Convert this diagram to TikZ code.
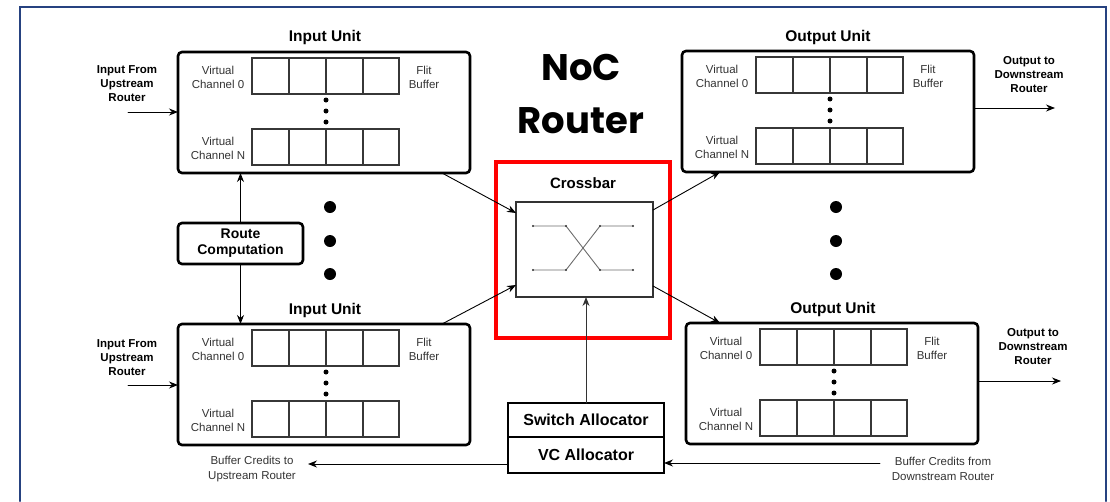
\documentclass[tikz,border=0pt]{standalone}
\usepackage{fontspec}
\setmainfont{Liberation Sans}
\newfontfamily\nocfont{Poppins}
\usetikzlibrary{arrows.meta}
\definecolor{framebl}{RGB}{38,66,128}
\definecolor{bufgray}{RGB}{55,55,55}

\begin{document}
\begin{tikzpicture}[x=1pt,y=-1pt,>={Stealth[length=9pt,width=7pt]},line cap=round,
  unitbox/.style={draw,line width=2.6pt,rounded corners=4pt,minimum width=292pt,minimum height=121pt,inner sep=0pt,outer sep=0pt,anchor=north west},
  ctrlbox/.style={draw,line width=2.6pt,inner sep=0pt,outer sep=0pt,align=center,font=\bfseries\fontsize{14}{16}\selectfont},
  buffer/.style={draw=bufgray,line width=1.1pt},
  unittitle/.style={font=\bfseries\fontsize{15.5}{18}\selectfont},
  vclabel/.style={font=\fontsize{11.5}{14}\selectfont,align=center,text=black!80},
  portlabel/.style={font=\bfseries\fontsize{11.5}{14}\selectfont,align=center},
  creditlabel/.style={font=\fontsize{11.5}{15}\selectfont,align=center,text=black!80},
  conn/.style={line width=0.9pt}]
\useasboundingbox (0,0) rectangle (1110,501);
\draw[framebl,line width=2pt] (20,501) -- (20,7) -- (1106,7) -- (1106,501);

% units
\node[unitbox] (inA) at (178,52) {};
\node[unitbox] (inB) at (178,324) {};
\node[unitbox] (outA) at (682,51) {};
\node[unitbox] (outB) at (686,323) {};
\node[unittitle] (inA-title) at (325,37) {Input Unit};
\node[unittitle] (inB-title) at (325,310) {Input Unit};
\node[unittitle] (outA-title) at (828,37) {Output Unit};
\node[unittitle] (outB-title) at (833,309) {Output Unit};

% flit buffers inside each unit
\foreach \u/\ux/\uy in {inA/178/52,inB/178/324,outA/682/51,outB/686/323}{
  \foreach \rowy in {6,77}{
    \draw[buffer] (\ux+74,\uy+\rowy) rectangle (\ux+221,\uy+\rowy+36);
    \foreach \cx in {37,74,111}
      \draw[buffer] (\ux+74+\cx,\uy+\rowy) -- (\ux+74+\cx,\uy+\rowy+36);
  }
  \foreach \d in {48,59,70}
    \fill (\ux+148,\uy+\d) circle (2.5);
  \node[vclabel] (\u-vc0) at (\ux+40,\uy+25) {Virtual\\Channel 0};
  \node[vclabel] (\u-vcn) at (\ux+40,\uy+96) {Virtual\\Channel N};
  \node[vclabel] (\u-flit) at (\ux+246,\uy+25) {Flit\\Buffer};
}

% title
\node[font=\nocfont\bfseries\fontsize{37}{53}\selectfont,align=center] (noc) at (581,94) {NoC\\Router};

% crossbar
\draw[red,line width=3.6pt] (496,162) rectangle (670,338);
\node[unittitle,font=\bfseries\fontsize{15}{18}\selectfont] (xb-title) at (583,183) {Crossbar};
\node[draw=black!80,line width=1.8pt,minimum width=137pt,minimum height=95pt,inner sep=0pt,outer sep=0pt] (xb) at (584.5,249.5) {};
\draw[gray!85!black,line width=0.9pt] (533,226) -- (566,226) -- (600,270) -- (633,270);
\draw[gray!85!black,line width=0.9pt] (533,270) -- (566,270) -- (600,226) -- (633,226);
\foreach \px in {533,566,600,633}{
  \fill[black!80] (\px,226) circle (1.1);
  \fill[black!80] (\px,270) circle (1.1);
}

% route computation and allocators
\node[ctrlbox,rounded corners=4pt,minimum width=125pt,minimum height=41pt] (rc) at (240.5,243.5) {Route\\Computation};
\node[ctrlbox,font=\bfseries\fontsize{16}{18}\selectfont,minimum width=156pt,minimum height=34pt] (sa) at (586,420) {Switch Allocator};
\node[ctrlbox,font=\bfseries\fontsize{16}{18}\selectfont,minimum width=156pt,minimum height=36pt,anchor=north] (vca) at (sa.south) {VC Allocator};

% big dots between units
\foreach \dy in {207,241,274}{
  \fill (330,\dy) circle (6);
  \fill (836,\dy) circle (6);
}

% ports
\node[portlabel] (inA-lbl) at (127,84) {Input From\\Upstream\\Router};
\node[portlabel] (inB-lbl) at (127,358) {Input From\\Upstream\\Router};
\node[portlabel] (outA-lbl) at (1029,75) {Output to\\Downstream\\Router};
\node[portlabel] (outB-lbl) at (1033,347) {Output to\\Downstream\\Router};
\coordinate (srcA) at (128,112);
\coordinate (srcB) at (128,385);
\coordinate (dstA) at (1055,108);
\coordinate (dstB) at (1061,381);
\draw[conn,->] (srcA) -- (srcA -| inA.west);
\draw[conn,->] (srcB) -- (srcB -| inB.west);
\draw[conn,->] (dstA -| outA.east) -- (dstA);
\draw[conn,->] (dstB -| outB.east) -- (dstB);

% connections
\draw[conn,->] (rc.north) -- (rc.north |- inA.south);
\draw[conn,->] (rc.south) -- (rc.south |- inB.north);
\draw[conn,->] ([xshift=-28pt]inA.south east) -- ([yshift=-11pt]xb.north west);
\draw[conn,->] ([xshift=-28pt]inB.north east) -- ([yshift=12pt]xb.south west);
\draw[conn,->] ([yshift=-8pt]xb.north east) -- ([xshift=38pt]outA.south west);
\draw[conn,->] ([yshift=11pt]xb.south east) -- ([xshift=34pt]outB.north west);
\draw[conn,black!80,->] (sa.north) -- (sa.north |- xb.south);

% buffer credits
\node[creditlabel] (credTo) at (252,469) {Buffer Credits to\\Upstream Router};
\node[creditlabel] (credFrom) at (943,469) {Buffer Credits from\\Downstream Router};
\coordinate (credOut) at (308,464);
\coordinate (credIn) at (880,463);
\draw[conn,->] (vca.west |- credOut) -- (credOut);
\draw[conn,->] (credIn) -- (credIn -| vca.east);
\end{tikzpicture}
\end{document}
